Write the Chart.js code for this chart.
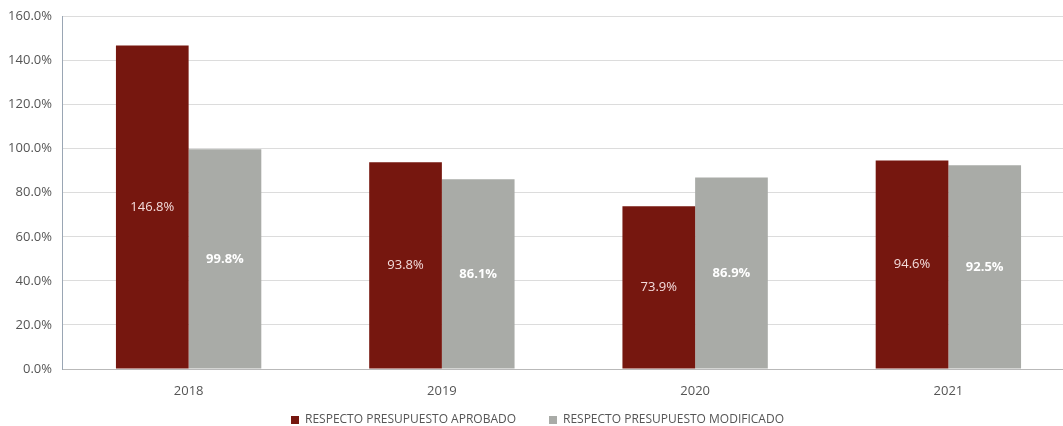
<!DOCTYPE html>
<html>
<head>
<meta charset="utf-8">
<script src="https://cdn.jsdelivr.net/npm/chart.js@4"></script>
<style>
  html, body { margin: 0; padding: 0; background: #fff; overflow: hidden; }
  #wrap { width: 1075px; height: 426px; }
</style>
</head>
<body>
<div id="wrap"><canvas id="barChart" width="1075" height="426"></canvas></div>
<script>
// --- data ---
const years = ['2018', '2019', '2020', '2021'];
const aprobado = [146.8, 93.8, 73.9, 94.6];
const modificado = [99.8, 86.1, 86.9, 92.5];
const yTicks = [0, 20, 40, 60, 80, 100, 120, 140, 160];

const RED = '#76170f';
const GRAY = '#a9aba7';
const FONT = '"Open Sans", sans-serif';

// values written in the middle of each bar
const barLabels = {
    id: 'barLabels',
    afterDatasetsDraw(chart) {
        const ctx = chart.ctx;
        chart.data.datasets.forEach((ds, i) => {
            const meta = chart.getDatasetMeta(i);
            meta.data.forEach((bar, j) => {
                const mid = (bar.y + bar.base) / 2;
                ctx.save();
                ctx.font = (i === 0 ? '' : 'bold ') + '13px ' + FONT;
                ctx.fillStyle = i === 0 ? '#f3dcdc' : '#ffffff';
                ctx.textAlign = 'center';
                ctx.textBaseline = 'middle';
                ctx.fillText(ds.data[j].toFixed(1) + '%', bar.x, mid);
                ctx.restore();
            });
        });
    }
};

new Chart(document.getElementById('barChart'), {
    type: 'bar',
    data: {
        labels: years,
        datasets: [
            { label: 'RESPECTO PRESUPUESTO APROBADO', data: aprobado, backgroundColor: RED },
            { label: 'RESPECTO PRESUPUESTO MODIFICADO', data: modificado, backgroundColor: GRAY }
        ]
    },
    options: {
        responsive: false,
        animation: false,
        categoryPercentage: 0.574,
        barPercentage: 1,
        layout: { padding: { top: 13, right: 0, left: 0, bottom: -10 } },
        plugins: {
            tooltip: { enabled: false },
            legend: {
                position: 'bottom',
                labels: {
                    boxWidth: 8, boxHeight: 8, padding: 7,
                    color: '#555',
                    font: { family: FONT, size: 12 },
                    generateLabels(chart) {
                        const items = Chart.defaults.plugins.legend.labels.generateLabels(chart);
                        // a bit more room between the two entries
                        items[0].text += '\u2003\u2003\u2009';
                        return items;
                    }
                }
            }
        },
        scales: {
            x: {
                grid: { display: false },
                border: { color: '#b9b9b9' },
                ticks: { color: '#555', font: { family: FONT, size: 13 }, padding: 6 },
                afterFit: s => { s.height = 38; }
            },
            y: {
                min: 0, max: 160,
                afterBuildTicks: s => { s.ticks = yTicks.map(v => ({ value: v })); },
                grid: { color: '#dcdcdc', drawTicks: false },
                border: { color: '#9aa6b4' },
                ticks: {
                    color: '#555', padding: 10,
                    font: { family: FONT, size: 13, lineHeight: 1 },
                    callback: v => v.toFixed(1) + '%'
                },
                afterFit: s => { s.width = 62; }
            }
        }
    },
    plugins: [barLabels]
});
</script>
</body>
</html>
